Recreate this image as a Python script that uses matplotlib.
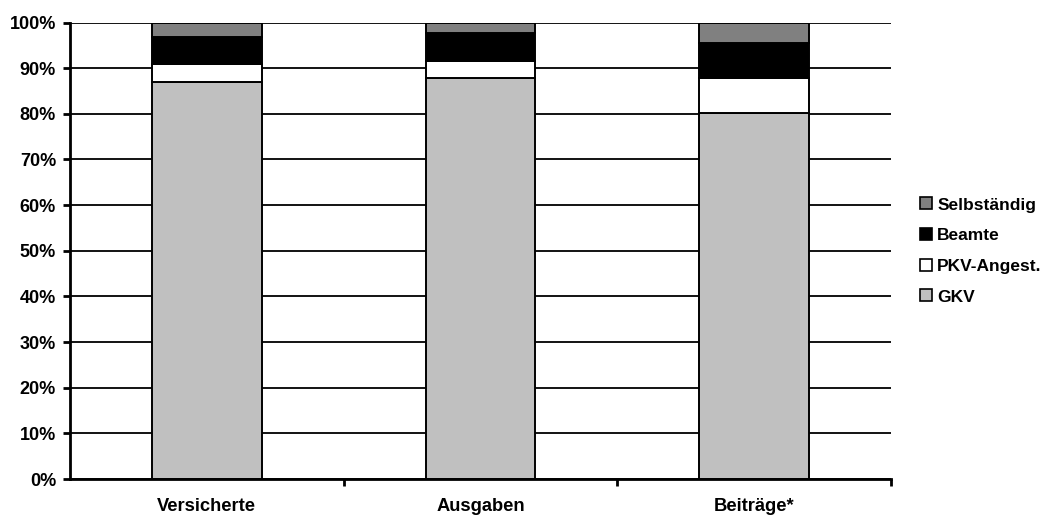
import matplotlib
matplotlib.use('Agg')
import matplotlib.pyplot as plt
import numpy as np
from matplotlib.ticker import FixedLocator, PercentFormatter

plt.rcParams['font.family'] = ['Liberation Sans', 'DejaVu Sans']
plt.rcParams['font.weight'] = 'bold'

categories = ['Versicherte', 'Ausgaben', 'Beiträge*']
series = ['GKV', 'PKV-Angest.', 'Beamte', 'Selbständig']
colors = ['#c0c0c0', '#ffffff', '#000000', '#808080']

gkv = [86.9, 87.8, 80.2]
pkv_angest = [4.0, 3.8, 7.7]
beamte = [6.0, 6.0, 7.7]
selbstaendig = [3.1, 2.4, 4.4]
values = [gkv, pkv_angest, beamte, selbstaendig]

fig = plt.figure(figsize=(10.48, 5.15), dpi=100)
ax = fig.add_axes([0.0668, 0.0699, 0.7834, 0.8864])

x = np.arange(len(categories))
bottom = np.zeros(len(categories))
for vals, label, color in zip(values, series, colors):
    ax.bar(x, vals, 0.4, bottom=bottom, color=color, edgecolor='black',
           linewidth=1.4, label=label, zorder=3)
    bottom += np.array(vals)

ax.set_xlim(-0.5, 2.5)
ax.set_ylim(0, 100)
ax.set_yticks(np.arange(0, 101, 10))
ax.yaxis.set_major_formatter(PercentFormatter(decimals=0))
ax.grid(axis='y', color='black', linewidth=1.3, zorder=1)

ax.set_xticks(x)
ax.set_xticklabels(categories, fontsize=13.2, fontweight='bold')
ax.tick_params(axis='x', which='major', length=0, pad=14)
ax.xaxis.set_minor_locator(FixedLocator([0.5, 1.5, 2.5]))
ax.tick_params(axis='x', which='minor', direction='out', length=5, width=2)
ax.tick_params(axis='y', direction='out', length=5, width=2, pad=5,
               labelsize=13)
for lbl in ax.get_yticklabels():
    lbl.set_fontweight('bold')

for side in ['top', 'right']:
    ax.spines[side].set_visible(False)
for side in ['left', 'bottom']:
    ax.spines[side].set_linewidth(2)
    ax.spines[side].set_zorder(4)

handles, labels = ax.get_legend_handles_labels()
leg = fig.legend(handles[::-1], labels[::-1], loc='center left',
                 bbox_to_anchor=(0.863, 0.5126), frameon=False,
                 fontsize=12.5, handlelength=0.68, handleheight=0.68,
                 handletextpad=0.3, labelspacing=0.9)
for t in leg.get_texts():
    t.set_fontweight('bold')
for h in leg.legend_handles:
    h.set_linewidth(1.2)

fig.savefig('out.png', dpi=100)
